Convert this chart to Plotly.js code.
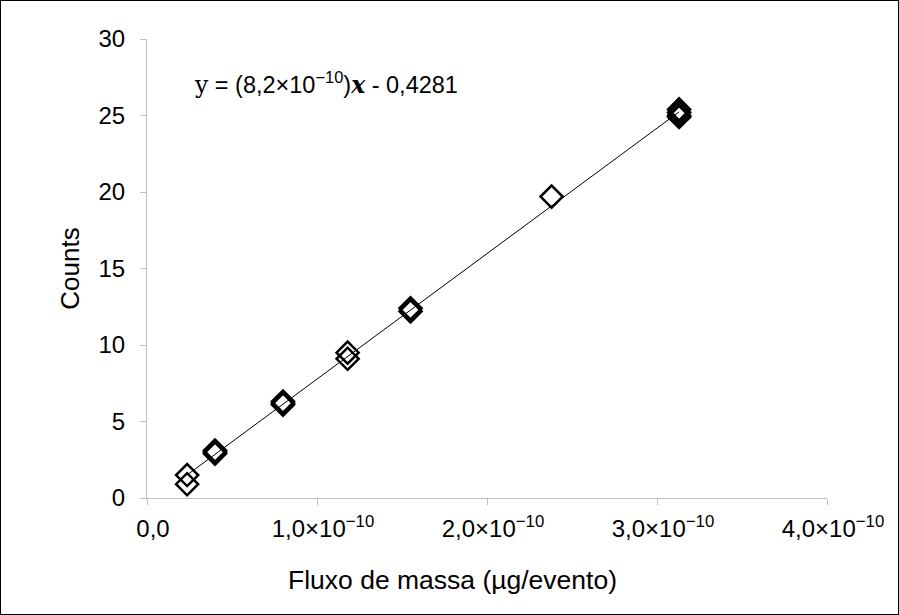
<!DOCTYPE html>
<html><head><meta charset="utf-8">
<script src="https://cdn.plot.ly/plotly-3.0.1.min.js"></script>
<style>
html,body{margin:0;padding:0;background:#fff}
#frame{position:absolute;left:0;top:0;width:897px;height:613px;border:1px solid #000}
#chart{width:897px;height:613px}
</style>
</head><body><div id="frame"><div id="chart"></div></div>
<script>
// Data (x: mass flux in µg/event, y: counts)
const fluxo = [0.236e-10, 0.236e-10, 0.40e-10, 0.40e-10, 0.40e-10, 0.80e-10, 0.80e-10, 0.80e-10,
               1.18e-10, 1.18e-10, 1.55e-10, 1.55e-10, 2.38e-10, 3.13e-10, 3.13e-10, 3.13e-10, 3.13e-10];
const counts = [1.5, 0.9, 3.1, 2.9, 3.0, 6.3, 6.1, 6.2,
                9.5, 9.1, 12.4, 12.2, 19.7, 25.4, 25.2, 25.0, 24.9];
const xTickVals = [0, 1e-10, 2e-10, 3e-10, 4e-10];
const xTickText = ['0,0', '1,0×10<sup>−10</sup>', '2,0×10<sup>−10</sup>', '3,0×10<sup>−10</sup>', '4,0×10<sup>−10</sup>'];
const yTickVals = [0, 5, 10, 15, 20, 25, 30];
const yTickText = ['0', '5', '10', '15', '20', '25', '30'];
const xTitle = 'Fluxo de massa (µg/evento)';
const yTitle = 'Counts';
const slope = 8.2e10;
const intercept = -0.4281;
const equationText = '<span style="font-family:DejaVu Serif">y</span> = (8,2×10<sup>−10</sup>)<span style="font-family:DejaVu Serif"><b><i>x</i></b></span> - 0,4281';

const xMin = Math.min(...fluxo), xMax = Math.max(...fluxo);
const trendX = [xMin, xMax];
const trendY = trendX.map(v => slope * v + intercept);

const font = 'Liberation Sans, Arial, sans-serif';
const grey = '#BFBFBF';

const traces = [
  {x: trendX, y: trendY, type: 'scatter', mode: 'lines', line: {color: '#000', width: 1}, hoverinfo: 'skip', showlegend: false},
  {x: fluxo, y: counts, type: 'scatter', mode: 'markers',
   marker: {symbol: 'diamond-open', size: 17, color: '#000', line: {color: '#000', width: 2.5}}, showlegend: false}
];

const layout = {
  width: 897, height: 613,
  margin: {l: 146, r: 71, t: 38, b: 116},
  paper_bgcolor: '#fff', plot_bgcolor: '#fff',
  font: {family: font, color: '#000', size: 24},
  showlegend: false,
  xaxis: {
    range: [0, 4e-10], tickmode: 'array', tickvals: xTickVals, ticktext: xTickText,
    showgrid: false, zeroline: false, showline: true, linecolor: grey, linewidth: 1,
    ticks: 'outside', ticklen: 6, tickcolor: grey, tickwidth: 1,
    tickfont: {family: font, size: 24, color: '#000'},
    ticklabelstandoff: 3, ticklabelshift: 6
  },
  yaxis: {
    range: [0, 30], tickmode: 'array', tickvals: yTickVals, ticktext: yTickText,
    showgrid: false, zeroline: false, showline: true, linecolor: grey, linewidth: 1,
    ticks: 'outside', ticklen: 6, tickcolor: grey, tickwidth: 1,
    tickfont: {family: font, size: 24, color: '#000'},
    ticklabelstandoff: 10,
    title: {text: yTitle, font: {family: font, size: 26, color: '#000'}, standoff: 11}
  },
  annotations: [
    {
      x: 0.265e-10, y: 27.1, xref: 'x', yref: 'y', xanchor: 'left', yanchor: 'middle',
      text: equationText, showarrow: false, font: {family: font, size: 23.5, color: '#000'}
    },
    {
      x: 0.449, y: -0.179, xref: 'paper', yref: 'paper', xanchor: 'center', yanchor: 'middle',
      text: xTitle, showarrow: false, font: {family: font, size: 26.5, color: '#000'}
    }
  ]
};

Plotly.newPlot('chart', traces, layout, {displayModeBar: false, staticPlot: true});
</script>
</body></html>
